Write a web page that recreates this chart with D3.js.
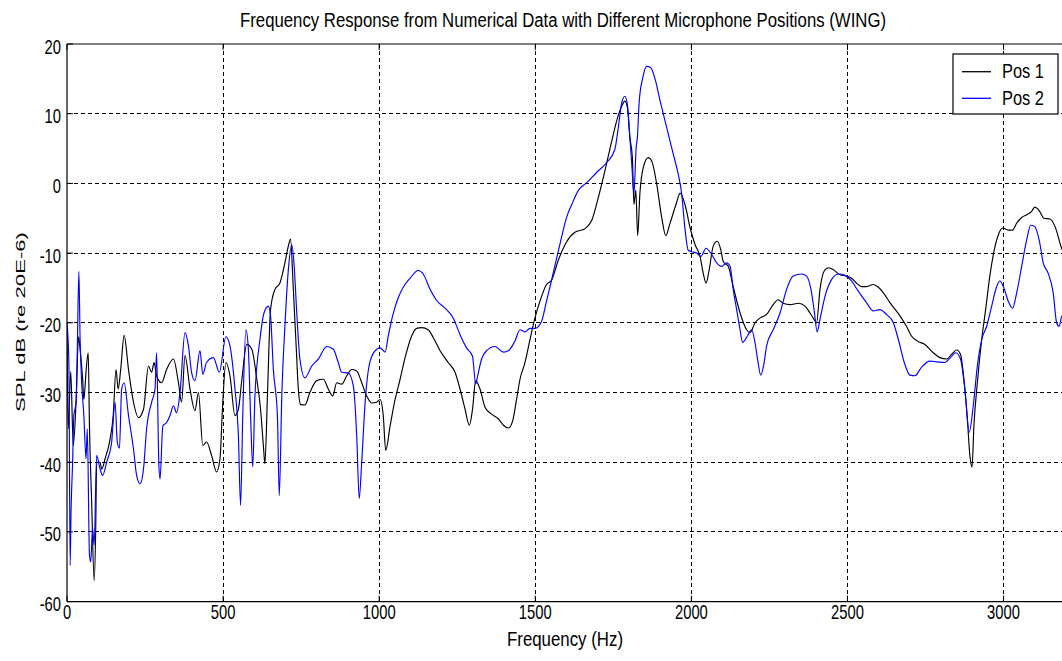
<!DOCTYPE html>
<html>
<head>
<meta charset="utf-8">
<script src="https://cdn.jsdelivr.net/npm/d3@7"></script>
<style>
  html, body { margin: 0; padding: 0; background: #fff; }
  svg { display: block; }
  text { font-family: "Liberation Sans", Arial, Helvetica, sans-serif; fill: #000; }
</style>
</head>
<body>
<svg id="chart" width="1062" height="661"></svg>
<script>
// Frequency response data (Hz, dB re 20E-6 Pa) for two microphone positions
const pos1Freq = [0,4,12,20,29,37,42,50,54,61,68,72,79,87,92,95,106,111,122,138,148,157,164,172,183,197,213,229,245,261,271,279,287,303,319,341,357,
  367,378,394,410,421,435,447,463,479,490,499,509,522,538,549,559,576,592,608,620,629,634,642,652,666,682,698,709,716,725,734,741,748,762,778,800,821,837,851,864,880,896,912,928,944,960,976,992,1003,1013,1021,1035,1051,1067,
  1083,1104,1120,1136,1157,1173,1195,1221,1243,1259,1275,1289,1299,1309,1323,1339,1360,1382,1398,1414,1428,1440,1451,1467,1483,1499,1515,1536,
  1552,1574,1600,1627,1659,1681,1702,1723,1745,1761,1777,1787,1795,1803,1811,1816,1822,1828,1835,1846,1862,1873,1889,1905,1918,1931,1951,1964,
  1980,1996,2012,2028,2038,2047,2057,2070,2083,2094,2102,2118,2134,2156,2177,2188,2204,2220,2241,2262,2278,2294,2316,2343,2364,2380,2393,2401,2412,2425,2439,2455,2476,2497,2513,2529,2545,2561,2583,2599,2615,
  2636,2668,2689,2705,2727,2748,2775,2796,2818,2834,2850,2862,2873,2884,2892,2899,2905,2916,2930,2944,2956,2969,2983,2997,3015,3029,3042,3058,3074,3090,3100,3114,3129,3149,3165,3186,3200];
const pos1Db = [-21,-35.2,-27,-37.6,-31.4,-22,-23.8,-28,-31,-27,-24.3,-35,-45.7,-57,-49.5,-40,-40,-41,-39.5,-36.7,-33.3,-26.7,-29.5,-26.7,-21.8,-26.7,-31.4,-33.6,-32.4,-26.2,-27.1,-25.7,-27.6,-28.6,-26.7,-25.2,-28.6,
  -31.4,-24.7,-29.5,-32.6,-30,-37.6,-37.1,-39,-41.4,-39.5,-31.4,-25.7,-27.6,-33.3,-32.4,-28.6,-23.1,-23.8,-28.1,-32.4,-37.6,-40.2,-30.5,-18.1,-15.2,-14.3,-11.4,-9,-8,-15.2,-23.3,-29.5,-31.7,-31.8,-30,-28.3,-28.1,-29.5,-30.5,-28.6,-28.8,-27.6,-26.7,-26.9,-28.6,-30.5,-31.5,-31.4,-31,-33.3,-38.3,-34.8,-31,-28.1,
  -25,-21.9,-20.8,-20.7,-21,-22.1,-24,-25.7,-27.1,-29.5,-32.4,-34.7,-32.4,-28.3,-29.5,-32.1,-33.1,-33.8,-34.7,-35.1,-34,-31,-28.1,-25.7,-22.4,-19.3,-16.9,-14.5,
  -13.9,-11,-8.4,-7,-6.5,-5.3,-2,1.8,6.1,9,11.1,11.8,10.9,6.6,3.7,-3,-1,-7.5,-1.5,2.3,3.7,3.2,-0.1,-4.9,-7.5,-5.8,-3,-1.4,
  -3.1,-6.4,-8.8,-10.5,-12.9,-14.3,-12.4,-9,-8.3,-9.5,-11.2,-11.9,-14.8,-18.6,-21,-21.4,-20,-19.3,-18.8,-17.4,-16.7,-17.2,-17.4,-17.2,-17.6,-18.6,-19.5,-20,-15.2,-12.6,-12.1,-12.4,-13.1,-13.3,-13.6,-14.3,-14.8,-14.8,-14.5,-14.9,-15.7,
  -17.1,-19,-20.5,-21.9,-22.7,-23.1,-24.3,-25,-25.2,-24.5,-23.9,-24.5,-28.1,-33.8,-39,-40.7,-34.8,-28.6,-22.4,-17.6,-13.3,-9.8,-7.4,-6.4,-6.7,-6.7,-5.7,-4.9,-4.5,-4,-3.4,-3.9,-5,-5.1,-6.2,-9.3,-10.5];

const pos2Freq = [0,6,10,13,18,22,29,33,38,42,47,54,61,65,72,76,82,87,95,106,114,127,143,154,161,168,175,183,197,213,223,234,245,255,271,282,287,294,298,307,319,330,341,351,
  362,378,389,399,410,426,435,447,469,488,509,522,538,549,556,563,573,581,588,595,602,618,631,645,652,661,674,680,688,698,709,720,727,736,746,762,784,805,832,853,869,880,901,917,928,936,944,955,971,992,1003,1019,1029,1043,1061,
  1077,1099,1125,1141,1163,1184,1211,1237,1259,1280,1299,1309,1314,1328,1344,1371,1398,1414,1435,1451,1467,1483,1499,1520,1536,
  1552,1579,1600,1617,1638,1665,1697,1729,1755,1766,1777,1787,1795,1803,1809,1816,1823,1827,1833,1844,1857,1870,1883,1899,1921,1942,1958,1969,1979,1990,
  2001,2017,2030,2047,2065,2081,2097,2113,2124,2134,2145,2156,2164,2177,2193,2204,2213,2222,2232,2241,2262,2284,2305,2326,2353,2369,2383,2393,2403,2412,2428,2449,2471,2492,2513,2535,2561,2583,2604,2625,2647,2663,
  2684,2700,2716,2737,2764,2786,2812,2828,2847,2862,2876,2890,2903,2916,2930,2946,2962,2978,2988,3001,3015,3029,3042,3058,3074,3087,3100,3114,3127,3143,3159,3170,3178,3187,3200];
const pos2Db = [-20,-25.7,-54.8,-47,-40,-33.3,-31.4,-23.8,-12.6,-22.4,-28.6,-33.3,-39.5,-35.2,-53.3,-54.3,-49.5,-51.9,-39,-41,-41.9,-40,-37.1,-31.4,-37.1,-38,-29.5,-28.6,-33.3,-38.1,-41.9,-43.1,-41,-35.2,-31.4,-29.5,-24.3,-40,-42.4,-34.8,-34.3,-33.3,-31.9,-32.9,
  -30,-21.4,-23.3,-27.1,-28.3,-24,-27.4,-25.7,-25,-27.1,-22,-23.3,-29.5,-36.2,-46.2,-33.3,-21,-23.8,-33.3,-40.7,-30.5,-22.4,-18.6,-17.6,-19,-26.7,-33.3,-44.8,-30.5,-20.5,-12.4,-8.8,-11.4,-18.6,-25.2,-27.9,-26.2,-25.2,-23.4,-23.8,-25.7,-27.1,-27.2,-29,-36.2,-45.2,-40,-31.4,-25.5,-23.8,-23.6,-24.2,-21.9,-19,-16.4,
  -14.9,-13.6,-12.5,-13,-15.2,-16.8,-17.9,-19.3,-21.7,-23.6,-24.8,-28.8,-27.9,-25.2,-24,-23.4,-24.2,-24,-22.6,-21,-21.3,-20.8,-20.8,-19.8,-16.9,
  -13.9,-8.7,-4.9,-3,-1,0.1,1.6,3,4.9,8,11.6,12.5,11.3,6.6,2.8,-1.5,5.1,6.6,11.8,15.1,16.8,16.6,15.1,12,8,4.2,1.3,-1.5,-6.3,-9.6,
  -9.8,-10,-10.5,-9.3,-10.2,-11.4,-11.9,-11.4,-11.9,-15.2,-18.1,-21,-22.8,-22.1,-21,-22.9,-25.5,-27.5,-26,-23.3,-21,-18.6,-15.2,-13.3,-13,-13.3,-15.2,-18.1,-21.3,-19.5,-16.2,-13.8,-13,-13.2,-14,-15.5,-17.1,-18.3,-18.1,-18.8,-20,-22.4,
  -26,-27.5,-27.6,-26.4,-25.5,-25.6,-25.7,-25.1,-24.3,-25.2,-29.5,-35.7,-31.9,-26.2,-22.4,-20.5,-17.6,-14.8,-14,-15,-16.9,-17.9,-15.7,-11.9,-8.1,-6,-6.2,-8.1,-11.4,-12.9,-15.7,-20,-20.5,-19,-20];

const xTicks = [0, 500, 1000, 1500, 2000, 2500, 3000];
const yTicks = [-60, -50, -40, -30, -20, -10, 0, 10, 20];
const seriesNames = ["Pos 1", "Pos 2"];
const seriesColors = ["#000000", "#0000ff"];

const svg = d3.select("#chart");
svg.append("rect").attr("width", 1062).attr("height", 661).attr("fill", "#fff");

const plot = { left: 67, top: 44, right: 1066, bottom: 601.6 };
const x = d3.scaleLinear().domain([0, 3200]).range([plot.left, plot.right]);
const y = d3.scaleLinear().domain([-60, 20]).range([plot.bottom, plot.top]);

// dashed grid
const grid = svg.append("g").attr("stroke", "#000").attr("stroke-width", 1)
  .attr("stroke-dasharray", "4,3").attr("shape-rendering", "crispEdges");
grid.selectAll(".gx").data(xTicks.filter(d => d > 0)).join("line")
  .attr("x1", d => x(d)).attr("x2", d => x(d)).attr("y1", plot.top).attr("y2", plot.bottom);
grid.selectAll(".gy").data(yTicks.filter(d => d > -60 && d < 20)).join("line")
  .attr("x1", plot.left).attr("x2", plot.right).attr("y1", d => y(d)).attr("y2", d => y(d));

// response curves, clipped to the axes box
svg.append("defs").append("clipPath").attr("id", "clip").append("rect")
  .attr("x", plot.left).attr("y", plot.top - 1)
  .attr("width", plot.right - plot.left).attr("height", plot.bottom - plot.top + 2);

const series = [
  { f: pos1Freq, v: pos1Db },
  { f: pos2Freq, v: pos2Db }
];
const line = d3.line().x(d => x(d[0])).y(d => y(d[1])).curve(d3.curveMonotoneX);
const curves = svg.append("g").attr("clip-path", "url(#clip)");
series.forEach((s, i) => {
  const pts = s.f.map((f, k) => [f, s.v[k]]);
  curves.append("path").datum(pts).attr("d", line)
    .attr("fill", "none").attr("stroke", seriesColors[i])
    .attr("stroke-width", 1.15).attr("stroke-linejoin", "round");
});

// axes frame and inward ticks
const frame = svg.append("g").attr("stroke", "#000").attr("stroke-width", 1.2).attr("fill", "none");
frame.append("line").attr("x1", plot.left).attr("x2", plot.right).attr("y1", plot.top).attr("y2", plot.top);
frame.append("line").attr("x1", plot.left).attr("x2", plot.right).attr("y1", plot.bottom).attr("y2", plot.bottom);
frame.append("line").attr("x1", plot.left).attr("x2", plot.left).attr("y1", plot.top).attr("y2", plot.bottom);
const tk = svg.append("g").attr("stroke", "#000").attr("stroke-width", 1);
xTicks.forEach(d => {
  tk.append("line").attr("x1", x(d)).attr("x2", x(d)).attr("y1", plot.top).attr("y2", plot.top + 6);
  tk.append("line").attr("x1", x(d)).attr("x2", x(d)).attr("y1", plot.bottom).attr("y2", plot.bottom - 6);
});
yTicks.forEach(d => {
  tk.append("line").attr("x1", plot.left).attr("x2", plot.left + 6).attr("y1", y(d)).attr("y2", y(d));
});

// tick labels (condensed lettering)
const sx = 0.74;
svg.append("g").selectAll("text").data(xTicks).join("text")
  .attr("transform", d => `translate(${x(d)},619) scale(${sx},1)`)
  .attr("text-anchor", "middle").attr("font-size", 20).text(d => d);
svg.append("g").selectAll("text").data(yTicks).join("text")
  .attr("transform", d => `translate(61,${y(d) + 9.5}) scale(${sx},1)`)
  .attr("text-anchor", "end").attr("font-size", 20).text(d => d);

// title and axis labels
svg.append("text").attr("x", 240).attr("y", 27).attr("font-size", 19.5)
  .attr("textLength", 646).attr("lengthAdjust", "spacingAndGlyphs")
  .text("Frequency Response from Numerical Data with Different Microphone Positions (WING)");
svg.append("text").attr("x", 507).attr("y", 646).attr("font-size", 20)
  .attr("textLength", 116).attr("lengthAdjust", "spacingAndGlyphs")
  .text("Frequency (Hz)");
svg.append("text").attr("transform", "translate(25,412) rotate(-90)")
  .attr("font-size", 13.5).attr("textLength", 180).attr("lengthAdjust", "spacingAndGlyphs")
  .text("SPL dB (re 20E-6)");

// legend
const lg = svg.append("g");
lg.append("rect").attr("x", 953).attr("y", 54).attr("width", 105).attr("height", 60)
  .attr("fill", "#fff").attr("stroke", "#000").attr("stroke-width", 1.2);
seriesNames.forEach((name, i) => {
  const ly = 71.7 + i * 26.6;
  lg.append("line").attr("x1", 962).attr("x2", 991).attr("y1", ly).attr("y2", ly)
    .attr("stroke", seriesColors[i]).attr("stroke-width", 1.3);
  lg.append("text").attr("x", 1002).attr("y", ly + 6.5).attr("font-size", 20)
    .attr("textLength", 42).attr("lengthAdjust", "spacingAndGlyphs").text(name);
});
</script>
</body>
</html>
